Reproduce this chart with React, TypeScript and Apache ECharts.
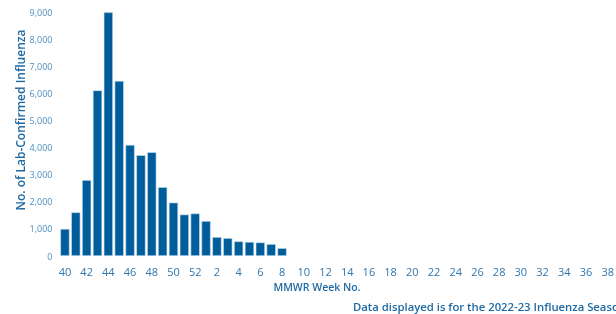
import React, { useEffect, useRef } from "react";
import * as echarts from "echarts";

const weeks: string[] = [
  "40","41","42","43","44","45","46","47","48","49","50","51","52",
  "1","2","3","4","5","6","7","8","9","10","11","12","13","14","15","16","17","18","19","20",
  "21","22","23","24","25","26","27","28","29","30","31","32","33","34","35","36","37","38","39",
];
const cases: (number | null)[] = [
  1000, 1610, 2800, 6110, 8990, 6460, 4100, 3720, 3830, 2540, 1970, 1530, 1570,
  1290, 700, 660, 540, 520, 500, 440, 290,
];
const yTicks = { min: 0, max: 9000, interval: 1000 };
const yAxisTitle = "No. of Lab-Confirmed Influenza";
const xAxisTitle = "MMWR Week No.";
const footnote = "Data displayed is for the 2022-23 Influenza Season";

export default function App() {
  const ref = useRef<HTMLDivElement>(null);
  useEffect(() => {
    if (!ref.current) return;
    const chart = echarts.init(ref.current, undefined, { renderer: "svg" });
    const data = weeks.map((_, i) => (i < cases.length ? cases[i] : null));
    const titleStyle = {
      fill: "#1f69a3",
      fontWeight: 600,
      fontFamily: "Open Sans",
      verticalAlign: "middle",
    };
    chart.setOption({
      animation: false,
      textStyle: { fontFamily: "Open Sans" },
      grid: {
        left: 59.5,
        width: 564.5,
        top: 12,
        bottom: 58,
        containLabel: false,
        outerBoundsMode: "none",
      },
      xAxis: {
        type: "category",
        data: weeks,
        axisLine: { show: false },
        axisTick: { show: false },
        axisLabel: {
          interval: 1,
          color: "#2f76ae",
          fontSize: 11,
          margin: 10,
          fontFamily: "Open Sans",
        },
      },
      yAxis: {
        type: "value",
        min: yTicks.min,
        max: yTicks.max,
        interval: yTicks.interval,
        splitLine: { show: false },
        axisLine: { show: false },
        axisTick: { show: false },
        axisLabel: {
          color: "#4d8fc2",
          fontSize: 9,
          margin: 7,
          fontFamily: "Open Sans",
          formatter: (v: number) => v.toLocaleString("en-US"),
        },
      },
      series: [
        {
          type: "bar",
          data,
          barCategoryGap: "15%",
          itemStyle: {
            color: "#005d9c",
            borderColor: "#cfe2f0",
            borderWidth: 0.6,
          },
        },
      ],
      graphic: [
        {
          type: "text",
          x: 20,
          y: 120,
          rotation: Math.PI / 2,
          style: { ...titleStyle, fontSize: 12, text: yAxisTitle, align: "center" },
        },
        {
          type: "text",
          x: 317,
          y: 287,
          style: { ...titleStyle, fontSize: 10.5, text: xAxisTitle, align: "center" },
        },
        {
          type: "text",
          x: 353,
          y: 306,
          style: { ...titleStyle, fontSize: 11.3, text: footnote, align: "left" },
        },
      ],
    });
    return () => chart.dispose();
  }, []);
  return (
    <div
      ref={ref}
      style={{ width: 616, height: 314, position: "fixed", left: 0, top: 0 }}
    />
  );
}
